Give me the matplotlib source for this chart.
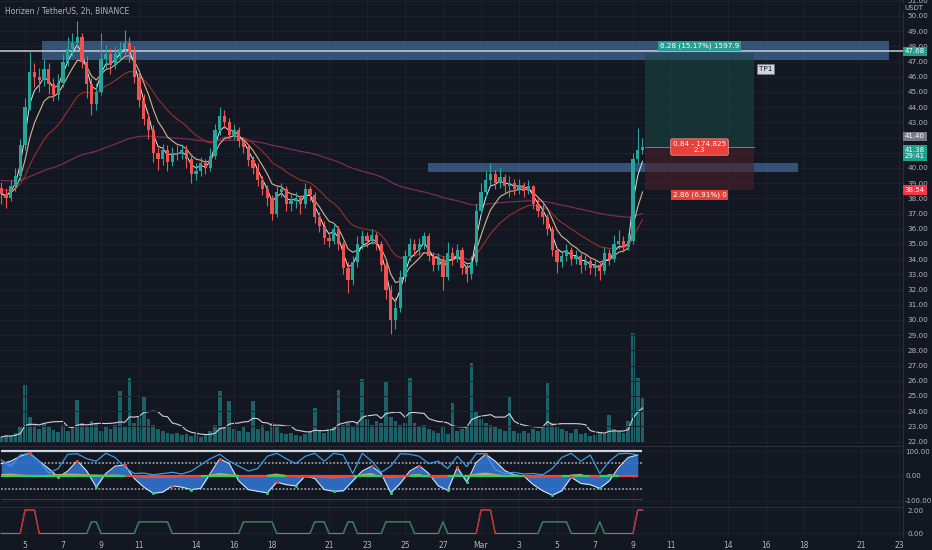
import numpy as np
import pandas as pd
import matplotlib
matplotlib.use('Agg')
import matplotlib.pyplot as plt
import matplotlib.dates as mdates

start = '2022-02-03 18:00'
closes = [38.3, 38.0, 38.8, 39.5, 41.5, 44.0, 46.3, 46.0, 45.8, 46.5,
          45.5, 44.8, 45.6, 47.0, 47.8, 48.2, 48.6, 47.0, 45.5, 44.2,
          45.0, 47.2, 47.5, 46.8, 47.5, 47.8, 48.2, 47.6, 46.0, 44.5,
          43.2, 42.5, 41.0, 40.6, 41.2, 40.4, 41.0, 40.9, 41.2, 40.6,
          39.6, 39.8, 40.3, 40.0, 40.8, 42.5, 43.4, 43.0, 42.2, 42.5,
          41.8, 41.4, 40.5, 40.0, 39.2, 38.6, 38.0, 37.0, 38.4, 38.6,
          37.6, 37.8, 38.0, 37.6, 38.6, 38.2, 36.8, 36.2, 35.4, 35.2,
          36.0, 35.0, 33.4, 32.6, 33.8, 35.0, 35.5, 35.2, 35.6, 35.0,
          33.6, 32.0, 30.0, 30.8, 32.8, 34.2, 35.0, 34.6, 35.0, 35.5,
          34.2, 33.6, 34.0, 32.8, 34.4, 34.0, 34.6, 33.4, 33.0, 33.8,
          37.2, 38.4, 39.2, 39.6, 39.0, 39.4, 38.8, 39.0, 38.6, 38.9,
          38.5, 38.8, 37.6, 37.2, 36.8, 36.0, 34.6, 33.8, 34.2, 34.6,
          34.0, 34.2, 33.6, 33.9, 33.4, 33.6, 33.2, 34.4, 34.0, 35.0,
          35.2, 34.8, 35.2, 40.6, 41.2, 41.38]
first_open = 38.7
highs = [39.1, 38.7, 39.2, 40.0, 41.9, 44.6, 47.6, 46.9, 46.6, 47.2,
         46.9, 45.9, 46.2, 47.5, 48.6, 48.9, 49.7, 48.9, 47.4, 45.9,
         45.6, 48.9, 48.1, 47.9, 48.0, 48.3, 49.1, 48.6, 48.0, 46.3,
         44.9, 43.6, 42.8, 41.4, 41.6, 41.5, 41.4, 41.5, 41.6, 41.5,
         40.9, 40.3, 40.7, 40.6, 41.3, 42.9, 44.0, 43.8, 43.3, 42.9,
         42.7, 42.0, 41.6, 40.8, 40.3, 39.5, 38.9, 38.2, 38.9, 39.0,
         38.8, 38.3, 38.4, 38.2, 39.0, 38.8, 38.4, 37.1, 36.5, 35.8,
         36.4, 36.2, 35.2, 33.8, 34.2, 35.5, 35.9, 35.8, 36.0, 35.8,
         35.2, 33.8, 32.3, 31.5, 33.3, 34.6, 35.4, 35.3, 35.4, 35.8,
         35.7, 34.5, 34.4, 34.2, 35.1, 34.8, 35.0, 34.8, 33.7, 34.2,
         37.6, 39.0, 39.8, 40.3, 39.9, 40.0, 39.6, 39.5, 39.3, 39.3,
         39.1, 39.2, 38.9, 38.0, 37.6, 37.0, 36.2, 34.8, 34.6, 35.0,
         34.8, 34.6, 34.4, 34.3, 34.1, 34.0, 33.8, 34.8, 34.7, 35.6,
         35.9, 35.5, 35.7, 41.0, 42.6, 42.0]
lows = [37.6, 37.4, 37.8, 38.5, 39.2, 41.2, 43.8, 45.3, 45.0, 45.4,
        44.9, 44.4, 44.5, 45.3, 46.7, 47.4, 47.9, 46.6, 44.6, 43.5,
        43.8, 44.8, 46.6, 46.2, 46.5, 47.1, 47.4, 47.0, 45.6, 44.0,
        42.8, 41.9, 40.4, 39.9, 40.2, 39.8, 40.1, 40.5, 40.6, 40.0,
        39.0, 39.2, 39.5, 39.6, 39.8, 40.6, 42.2, 42.6, 41.9, 41.9,
        41.4, 41.0, 40.1, 39.6, 38.8, 38.2, 37.5, 36.6, 36.8, 38.1,
        37.2, 37.2, 37.4, 37.0, 37.4, 37.8, 36.4, 35.8, 35.0, 34.8,
        35.0, 34.6, 33.0, 31.8, 32.3, 33.5, 34.7, 34.8, 35.0, 34.6,
        33.2, 31.4, 29.1, 29.4, 30.5, 32.5, 33.9, 34.2, 34.3, 34.7,
        33.9, 33.2, 33.3, 32.0, 32.6, 33.6, 33.8, 33.0, 32.5, 32.7,
        33.6, 36.9, 38.1, 38.9, 38.6, 38.7, 38.3, 38.1, 38.2, 38.3,
        38.1, 38.3, 37.3, 36.8, 36.3, 35.6, 34.2, 33.1, 33.5, 33.9,
        33.6, 33.7, 33.1, 33.3, 33.0, 32.9, 32.6, 33.0, 33.6, 33.8,
        34.7, 34.5, 34.6, 35.0, 40.3, 40.9]
volumes = [6, 8, 7, 10, 16, 58, 26, 18, 14, 20,
           16, 13, 11, 18, 12, 14, 43, 20, 16, 22,
           20, 12, 16, 14, 18, 52, 16, 65, 20, 26,
           47, 24, 18, 14, 12, 10, 9, 10, 8, 9,
           7, 9, 6, 8, 12, 18, 52, 16, 42, 14,
           12, 16, 11, 42, 14, 18, 12, 20, 16, 10,
           9, 10, 8, 7, 9, 11, 35, 12, 10, 14,
           16, 53, 18, 20, 16, 20, 64, 24, 18, 22,
           20, 62, 26, 22, 18, 20, 65, 20, 16, 18,
           14, 12, 10, 16, 9, 40, 12, 14, 16, 80,
           32, 24, 20, 18, 16, 14, 12, 47, 12, 10,
           12, 10, 14, 12, 16, 60, 20, 16, 14, 12,
           10, 14, 9, 10, 7, 8, 10, 9, 28, 14,
           12, 10, 22, 110, 65, 45]

# oscillator pane, 12h samples
wave = [50, 60, 80, 92, 60, 30, -5, 20, 62, 20,
        -45, 10, 40, 45, -10, -45, -70, -65, -40, -45,
        -55, -50, 10, 70, 50, -20, -55, -62, -68, -25,
        -35, -40, 0, -10, -55, -62, -60, -20, 20, 40,
        10, -68, -30, 20, 42, 10, -40, -58, 35, -25,
        55, 88, 60, 22, 5, 0, -35, -60, -78, -60,
        -5, -30, -35, -50, -20, 35, 75, 85]
fast_line = [65, 40, 85, 92, 60, 12, 30, 88, 90, 70,
             60, 92, 75, 35, 10, 12, 5, 10, 15, 8,
             20, 45, 70, 88, 60, 40, 20, 30, 80, 92,
             70, 50, 80, 92, 60, 92, 85, 10, 92, 60,
             15, 40, 90, 88, 80, 50, 60, 30, 80, 38,
             90, 90, 25, 10, 15, 8, 10, 5, 30, 75,
             92, 60, 85, 10, 60, 90, 92, 85]
flow = [8, 10, 6, 4, 2, 5, 8, 10, 9, 7,
        6, 5, 6, 4, -6, -8, -9, -8, -7, -6,
        -5, -3, 6, 12, 8, 4, -4, -6, 5, 10,
        4, -5, -8, -6, -9, -10, -8, -4, 8, 12,
        -5, -10, -6, 5, 9, -6, -8, -5, 6, 3,
        10, 14, 8, 4, 6, -4, -8, -6, -5, -3,
        6, 9, -5, -6, 8, 3, -4, -5]

# signal pane (6h)
signal = [0, 0, 0, 0, 0, 2, 2, 2, 0, 0,
          0, 0, 0, 0, 0, 0, 0, 0, 0, 1,
          1, 0, 0, 0, 0, 0, 0, 0, 0, 1,
          1, 1, 1, 1, 1, 1, 0, 0, 0, 0,
          0, 0, 0, 0, 0, 0, 0, 0, 0, 0,
          0, 1, 1, 1, 1, 1, 1, 1, 0, 0,
          0, 0, 0, 0, 0, 0, 1, 1, 1, 0,
          0, 0, 0, 1, 1, 0, 0, 0, 0, 0,
          0, 1, 1, 1, 1, 1, 1, 0, 0, 0,
          0, 0, 0, 1, 0, 0, 0, 0, 0, 0,
          0, 2, 2, 2, 0, 0, 0, 0, 0, 0,
          0, 0, 0, 0, 1, 1, 1, 1, 1, 1,
          0, 0, 0, 0, 0, 0, 1, 0, 0, 0,
          0, 0, 0, 0, 2, 2]

# drawings
zone_top = ('2022-02-05 22:00', '2022-03-22 12:00', 47.1, 48.35)
zone_mid = ('2022-02-26 05:00', '2022-03-17 16:00', 39.75, 40.35)
hline_price = 47.68
pos_start, pos_end = '2022-03-09 15:00', '2022-03-15 09:00'
entry, target, stop = 41.38, 47.55, 38.54

tick_dates = ['2022-02-05', '2022-02-07', '2022-02-09', '2022-02-11', '2022-02-14',
              '2022-02-16', '2022-02-18', '2022-02-21', '2022-02-23', '2022-02-25',
              '2022-02-27', '2022-03-01', '2022-03-03', '2022-03-05', '2022-03-07',
              '2022-03-09', '2022-03-11', '2022-03-14', '2022-03-16', '2022-03-18',
              '2022-03-21', '2022-03-23']
tick_labels = ['5', '7', '9', '11', '14', '16', '18', '21', '23', '25', '27',
               'Mar', '3', '5', '7', '9', '11', '14', '16', '18', '21', '23']
# price levels hidden behind the last-price tags on the axis
covered_levels = [41, 42]

BG = '#131722'
GRID = '#1e222d'
TXT = '#b2b5be'
UP = '#26a69a'
DN = '#ef5350'


def ema(vals, span, seed):
    a = 2.0 / (span + 1)
    out = []
    e = seed
    for v in vals:
        e = a * v + (1 - a) * e
        out.append(e)
    return np.array(out)


def d(s):
    return mdates.date2num(pd.Timestamp(s))


t = mdates.date2num(pd.date_range(start, periods=len(closes), freq='6h'))
t12 = mdates.date2num(pd.date_range(start, periods=len(wave), freq='12h'))
c = np.array(closes)
o = np.concatenate([[first_open], c[:-1]])

fig = plt.figure(figsize=(9.32, 5.5), dpi=100, facecolor=BG)
W, H = 932, 550
right = 903 / W
ax = fig.add_axes([0, (H - 445) / H, right, 445 / H])
ax_osc = fig.add_axes([0, (H - 506) / H, right, 60 / H], sharex=ax)
ax_sig = fig.add_axes([0, (H - 537) / H, right, 30 / H], sharex=ax)

# volume behind the candles (twinx moves the price ticks left, so do it first)
ax_vol = ax.twinx()
ax_vol.set_ylim(-2, 443)
ax_vol.axis('off')
ax_vol.set_zorder(0)
ax.set_zorder(1)
ax.patch.set_visible(False)
fig.patches.append(plt.Rectangle((0, (H - 445) / H), right, 445 / H,
                                 transform=fig.transFigure, color=BG, zorder=-5))

x0 = d('2022-02-05') - 25 / 19
x1 = d('2022-02-05') + 878 / 19
ticks = [d(s) for s in tick_dates]

for a in (ax, ax_osc, ax_sig):
    a.set_facecolor(BG)
    a.set_xlim(x0, x1)
    a.set_xticks(ticks)
    a.grid(True, color=GRID, lw=0.7)
    a.set_axisbelow(True)
    for side in ('left', 'bottom'):
        a.spines[side].set_visible(False)
    a.spines['top'].set_color('#2a2e39')
    a.spines['right'].set_color('#2a2e39')
    a.yaxis.tick_right()
    a.yaxis.set_label_position('right')
    a.tick_params(axis='y', left=False, right=False, labelleft=False, labelright=True,
                  length=0, pad=3, labelsize=5.2, labelcolor=TXT)
    a.tick_params(axis='x', length=0, labelsize=5.5, labelcolor=TXT)
ax.spines['top'].set_visible(False)
ax.tick_params(axis='x', labelbottom=False)
ax_osc.tick_params(axis='x', labelbottom=False)
ax_osc.tick_params(axis='y', pad=1.5, labelsize=5.0)
ax_sig.set_xticklabels(tick_labels)
ax_sig.tick_params(axis='x', pad=3)

ax_vol.bar(t, volumes, width=0.19, color='#1d6b70', alpha=0.9)
ax_vol.plot(t, pd.Series(volumes).rolling(9, min_periods=1).mean(), color='#cfd2d8', lw=0.8)

# main price pane
levels = np.arange(22, 52)
ax.set_ylim(50 - 429 / 15.2, 50 + 16 / 15.2)
ax.set_yticks(levels)
ax.set_yticklabels(['' if v in covered_levels else f'{v:.2f}' for v in levels])

ax.fill_between([d(zone_top[0]), d(zone_top[1])], zone_top[2], zone_top[3],
                color='#4a78ad', alpha=0.62, lw=0, zorder=1)
ax.fill_between([d(zone_mid[0]), d(zone_mid[1])], zone_mid[2], zone_mid[3],
                color='#4a78ad', alpha=0.62, lw=0, zorder=1)
ax.axhline(hline_price, color='#c9ccd3', lw=1.1, zorder=3)

ps, pe = d(pos_start), d(pos_end)
ax.fill_between([ps, pe], entry, target, color='#1c4a45', alpha=0.55, lw=0, zorder=1)
ax.fill_between([ps, pe], stop, entry, color='#4a2029', alpha=0.6, lw=0, zorder=1)
ax.plot([ps, pe], [entry, entry], color='#787b86', lw=0.7, zorder=2)

ax.plot(t, ema(c, 100, 39.2), color='#7a2c60', lw=0.9, zorder=2)
ax.plot(t, ema(c, 18, 38.6), color='#8e2c2c', lw=0.9, zorder=2)
ax.plot(t, ema(c, 7, c[0]), color='#d9b48f', lw=0.8, zorder=3)
ax.plot(t, ema(c, 3, c[0]), color='#e6e6e6', lw=0.7, zorder=3)

cols = np.where(c >= o, UP, DN)
ax.vlines(t, lows, highs, colors=cols, lw=0.8, zorder=4)
body = np.where(np.abs(c - o) < 0.06, 0.06, c - o)
ax.bar(t, body, bottom=o, width=0.17, color=cols, lw=0, zorder=5)

fs = 5.2
ax.text((ps + pe) / 2, 48.02, '6.28 (15.17%) 1597.9', ha='center', va='center', fontsize=fs,
        color='white', zorder=8, bbox=dict(boxstyle='square,pad=0.25', fc='#2a9d92', ec='none'))
ax.text((ps + pe) / 2, 41.38, '0.84 - 174.825\n2.3', ha='center', va='center', fontsize=fs,
        color='white', zorder=8, linespacing=1.0,
        bbox=dict(boxstyle='round,pad=0.3,rounding_size=0.2', fc='#e8413c', ec='#f5a3a0', lw=0.5))
ax.text((ps + pe) / 2, 38.25, '2.86 (6.91%) 0', ha='center', va='center', fontsize=fs,
        color='white', zorder=8, bbox=dict(boxstyle='square,pad=0.25', fc='#e8413c', ec='none'))
ax.text(pe + 0.25, 46.5, 'TP1', ha='left', va='center', fontsize=fs, color='#131722', zorder=8,
        bbox=dict(boxstyle='square,pad=0.25', fc='#d1d4dc', ec='#787b86', lw=0.5))

ax.text(0.005, 0.985, 'Horizen / TetherUS, 2h, BINANCE', transform=ax.transAxes,
        fontsize=5.5, color=TXT, ha='left', va='top')


def tag(axis, y, text, fc, tc='white'):
    axis.text(1.002, y, text, transform=axis.get_yaxis_transform(), ha='left', va='center',
              fontsize=5.0, color=tc, clip_on=False, zorder=10, linespacing=1.0,
              bbox=dict(boxstyle='square,pad=0.25', fc=fc, ec='none'))


tag(ax, 50.55, 'USDT', BG, TXT)
tag(ax, hline_price, '47.68', '#22a08f')
tag(ax, 42.08, '41.40', '#787b86')
tag(ax, 41.0, '41.38\n29:41', '#22a08f')
tag(ax, stop, '38.54', '#f23645')

# oscillator pane
w = np.array(wave, dtype=float)
ax_osc.set_ylim(-121.5, 121.5)
ax_osc.set_yticks([100, 0, -100])
ax_osc.set_yticklabels(['100.00', '0.00', '-100.00'])
ax_osc.hlines(100, t[0], t[-1], color='#d1d4dc', lw=1.6, zorder=2)
ax_osc.hlines([53, -53], t[0], t[-1], color='#9598a1', lw=1.3, linestyles=(0, (1, 1)), zorder=2)
ax_osc.hlines(-95, t[0], t[-1], color='#6b2a30', lw=0.7, zorder=2)
ax_osc.fill_between(t12, 0, w, color='#2f6fc8', alpha=0.95, lw=0, zorder=3)
ax_osc.plot(t12, w, color='#d6e6f2', lw=0.8, zorder=4)
f = np.array(flow, dtype=float)
ax_osc.fill_between(t12, 0, f, where=f >= 0, interpolate=True, color='#c9a469', lw=0, zorder=5)
ax_osc.fill_between(t12, 0, f, where=f <= 0, interpolate=True, color='#e4514c', lw=0, zorder=5)
for i in range(len(f) - 1):
    col = '#2fcf6a' if f[i] + f[i + 1] > 0 else '#e8483f'
    ax_osc.plot(t12[i:i + 2], [0, 0], color=col, lw=1.6, zorder=6, solid_capstyle='butt')
ax_osc.plot(t12, fast_line, color='#3d9ae0', lw=0.9, zorder=6)
peaks = [i for i in range(1, len(w) - 1) if w[i] > w[i - 1] and w[i] >= w[i + 1]]
troughs = [i for i in range(1, len(w) - 1) if w[i] < w[i - 1] and w[i] <= w[i + 1]]
ax_osc.scatter(t12[peaks], w[peaks], s=5, color='#ef3b36', zorder=7, lw=0)
ax_osc.scatter(t12[troughs], w[troughs], s=5, color='#31d16a', zorder=7, lw=0)

# signal pane
s = np.array(signal, dtype=float)
ax_sig.set_ylim(-0.3, 2.26)
ax_sig.set_yticks([2, 0])
ax_sig.set_yticklabels(['2.00', '0.00'])
ax_sig.plot(t, s, color='#787b86', lw=0.9, zorder=3)
i = 0
while i < len(s):
    if s[i] > 0:
        j = i
        while j + 1 < len(s) and s[j + 1] > 0:
            j += 1
        a0, a1 = max(i - 1, 0), min(j + 1, len(s) - 1)
        col = '#c62d2d' if s[i:j + 1].max() >= 2 else '#2b7a4b'
        ax_sig.plot(t[a0:a1 + 1], s[a0:a1 + 1], color=col, lw=1.0, zorder=4)
        i = j + 1
    else:
        i += 1

fig.savefig('out.png', dpi=100, facecolor=BG)
